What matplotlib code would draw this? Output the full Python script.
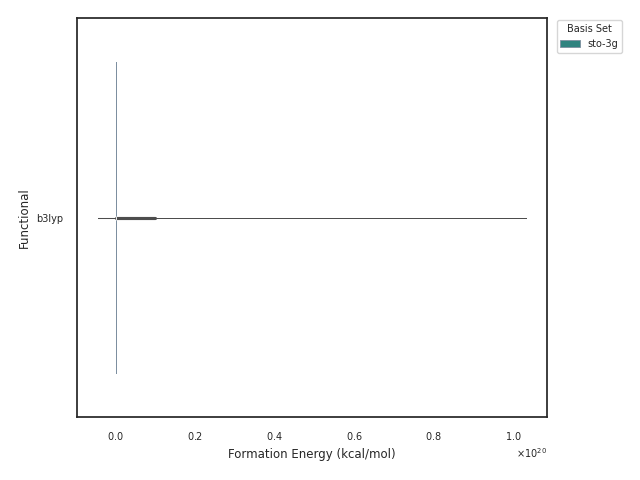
import matplotlib
matplotlib.use("Agg")
import matplotlib.pyplot as plt
import seaborn as sns
import pandas as pd

# formation energies (kcal/mol) for b3lyp / sto-3g
# most runs give sane values, a few blew up to huge numbers
sane_energy = [-152.3, -98.7, -120.4, -87.1, -133.9, -110.6, -75.2, -142.8]
blown_energy = [-4.4e18, -130.0, -110.0, -90.0, -60.0, 2.0e18, 9.8e18, 4.5e19, 1.032e20]
functional = "b3lyp"
basis_set = "sto-3g"

x_col = "Formation Energy (kcal/mol)"

df_sane = pd.DataFrame({x_col: sane_energy,
                        "Functional": [functional] * len(sane_energy),
                        "Basis Set": [basis_set] * len(sane_energy)})
df_blown = pd.DataFrame({x_col: blown_energy,
                         "Functional": [functional] * len(blown_energy),
                         "Basis Set": [basis_set] * len(blown_energy)})

sns.set_theme(style="white")
plt.rcParams["xtick.labelsize"] = 7
plt.rcParams["ytick.labelsize"] = 7
plt.rcParams["axes.labelsize"] = 8.5
plt.rcParams["legend.fontsize"] = 7
plt.rcParams["legend.title_fontsize"] = 7

fig, ax = plt.subplots(figsize=(6.4, 4.8), dpi=100)

# spread of the blown-up runs: density is ~0 next to the sane ones, so width 0
sns.violinplot(data=df_blown, x=x_col, y="Functional", hue="Basis Set",
               palette="viridis", width=0, cut=0, inner="box",
               linewidth=0.5, linecolor="0.3", legend=False, ax=ax)
sns.violinplot(data=df_sane, x=x_col, y="Functional", hue="Basis Set",
               palette="viridis", width=0.78, cut=0, inner="box",
               linewidth=0.6, linecolor="#7d8fa0", ax=ax)

ax.ticklabel_format(axis="x", style="sci", scilimits=(0, 0), useMathText=True)
ax.xaxis.get_offset_text().set_fontsize(7)
ax.set_xlabel(x_col)
ax.set_ylabel("Functional")

sns.move_legend(ax, "upper left", bbox_to_anchor=(1.02, 0.995), borderaxespad=0)

fig.subplots_adjust(left=0.12, right=0.855, top=0.9625, bottom=0.131)
fig.savefig("out.png")
